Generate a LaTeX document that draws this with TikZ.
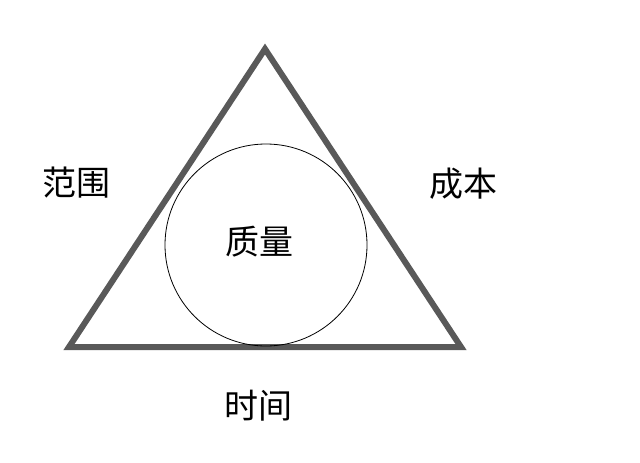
\documentclass[tikz,border=0pt]{standalone}
\usepackage{fontspec}
\newfontfamily\cjk{Noto Sans CJK SC}[Scale=1]
\begin{document}
\begin{tikzpicture}[x=1pt,y=-1pt,
  lbl/.style={font=\cjk\fontsize{34}{36}\selectfont, inner sep=0pt}]
\useasboundingbox[fill=white] (0,0) rectangle (640,463);
\coordinate (t) at (265,49);
\coordinate (l) at (69,347);
\coordinate (r) at (461,347);
\draw[line width=6pt, color=black!65, line join=miter] (t) -- (l) -- (r) -- cycle;
\node[draw, circle, minimum size=202pt, line width=0.8pt] (c) at (266,245) {};
\node[lbl] (q) at (259,242) {质量};
\node[lbl] (s) at (76,183) {范围};
\node[lbl] (b) at (463,184) {成本};
\node[lbl] (time) at (258,406) {时间};
\end{tikzpicture}
\end{document}
